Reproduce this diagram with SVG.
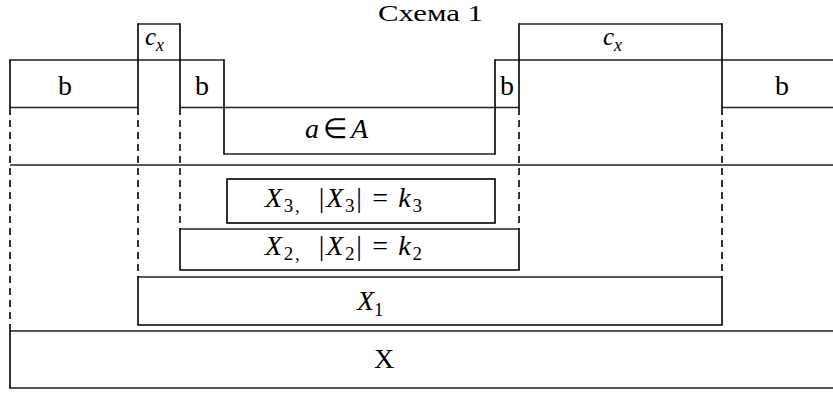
<svg xmlns="http://www.w3.org/2000/svg" width="833" height="394" viewBox="0 0 833 394">
<style>
.ln{fill:none;stroke:#000;stroke-width:1.6;stroke-linecap:square}
.h{fill:none;stroke:#222;stroke-width:1.6}
.box{fill:none;stroke:#000;stroke-width:1.6}
.dash{fill:none;stroke:#000;stroke-width:1.6;stroke-dasharray:7,5}
.t{font-size:28px}
.i{font-style:italic}
</style>
<rect width="833" height="394" fill="#fff"/>
<g font-family="Liberation Serif, Times New Roman, Times, serif" fill="#000">
<text x="378" y="21" font-size="24" textLength="105" lengthAdjust="spacingAndGlyphs">Схема 1</text>

<g id="profile">
  <path class="h" d="M10 60 H224 M495 60 H833 M138 24 H180 M519 24 H722 M10 107.5 H138 M180 107.5 H519 M722 107.5 H833 M224 154 H495 M10 165 H833"/>
  <path class="ln" d="M10 60 V107.5 M138 24 V107.5 M180 24 V107.5 M224 60 V154 M495 60 V154 M519 24 V107.5 M722 24 V107.5"/>
</g>

<g id="b1"><text class="t" x="58" y="95">b</text></g>
<g id="cx1"><text x="145" y="45" font-size="25" class="i">c<tspan font-size="18" dy="6">x</tspan></text></g>
<g id="b2"><text class="t" x="195" y="95">b</text></g>
<g id="a"><text class="t" x="305" y="138" textLength="63" lengthAdjust="spacing"><tspan class="i">a</tspan> ∈ <tspan class="i">A</tspan></text></g>
<g id="b3"><text class="t" x="500" y="95">b</text></g>
<g id="cx2"><text x="603" y="45" font-size="25" class="i">c<tspan font-size="18" dy="6">x</tspan></text></g>
<g id="b4"><text class="t" x="775" y="95">b</text></g>

<g id="X3">
  <rect class="box" x="227" y="179" width="268" height="44"/>
  <text class="t" x="265" y="207" textLength="157" lengthAdjust="spacing" xml:space="preserve"><tspan class="i">X</tspan><tspan font-size="19" dy="5">3</tspan><tspan font-size="19">,</tspan><tspan dy="-5">  |</tspan><tspan class="i">X</tspan><tspan font-size="19" dy="5">3</tspan><tspan dy="-5">| = </tspan><tspan class="i">k</tspan><tspan font-size="19" dy="5">3</tspan></text>
</g>
<g id="X2">
  <path class="h" d="M180 229 H519"/>
  <path class="ln" d="M180 229 V270 H519 V229"/>
  <text class="t" x="265" y="255" textLength="157" lengthAdjust="spacing" xml:space="preserve"><tspan class="i">X</tspan><tspan font-size="19" dy="5">2</tspan><tspan font-size="19">,</tspan><tspan dy="-5">  |</tspan><tspan class="i">X</tspan><tspan font-size="19" dy="5">2</tspan><tspan dy="-5">| = </tspan><tspan class="i">k</tspan><tspan font-size="19" dy="5">2</tspan></text>
</g>
<g id="X1">
  <path class="h" d="M138 277 H722"/>
  <path class="ln" d="M138 277 V325 H722 V277"/>
  <text class="t" x="357" y="310"><tspan class="i">X</tspan><tspan font-size="19" dy="6">1</tspan></text>
</g>
<g id="X">
  <path class="h" d="M10 331 H833 M10 388 H833"/>
  <path class="ln" d="M10 325 V388"/>
  <text class="t" x="374" y="368">X</text>
</g>

<g id="connectors">
  <path class="dash" d="M10 108 V325 M138 108 V277 M180 108 V229 M519 108 V229 M722 108 V277"/>
</g>
</g>
</svg>
